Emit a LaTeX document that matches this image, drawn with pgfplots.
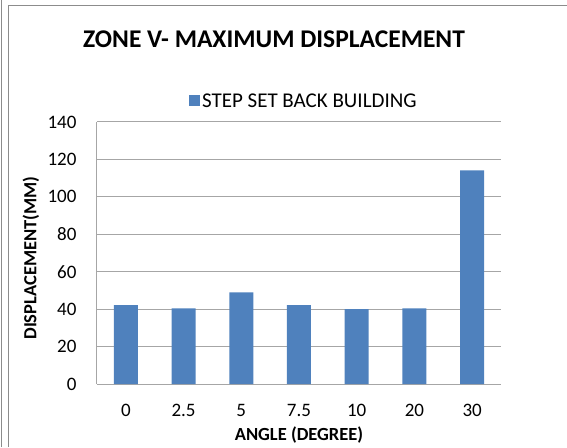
\documentclass[border=0pt]{standalone}
\usepackage{pgfplots}
\pgfplotsset{compat=1.18}
\usepackage{fontspec}
\setmainfont{Carlito}
\definecolor{barblue}{HTML}{4F81BD}
\definecolor{gridgray}{HTML}{A6A6A6}
\definecolor{framegray}{HTML}{8C8C8C}
\begin{document}
\begin{tikzpicture}
\useasboundingbox (0pt,0pt) rectangle (567pt,447pt);
% frame
\draw[framegray,line width=1pt] (1.5pt,447pt) -- (1.5pt,0pt);
\draw[framegray,line width=1pt] (8pt,0pt) -- (8pt,441.5pt) -- (567pt,441.5pt);
% title
\node[font=\fontsize{25.5}{30}\selectfont\bfseries] at (274pt,408pt) {ZONE V- MAXIMUM DISPLACEMENT};
\begin{axis}[
  at={(97pt,63pt)}, anchor=south west,
  scale only axis, width=404pt, height=262pt,
  ymin=0, ymax=140, ytick={0,20,...,140},
  xmin=-0.5, xmax=6.5,
  xtick={0,...,6},
  xticklabels={0,2.5,5,7.5,10,20,30},
  ybar, bar width=24pt,
  axis x line*=bottom, axis y line*=left,
  axis line style={gridgray, line width=1pt},
  ymajorgrids, grid style={gridgray, line width=1pt},
  major tick length=0pt,
  tick label style={font=\fontsize{19}{22}\selectfont},
  /pgf/number format/assume math mode=true,
  yticklabel style={anchor=east, xshift=-17pt},
  xticklabel style={anchor=center, yshift=-26pt},
  xlabel={\textbf{ANGLE (DEGREE)}},
  ylabel={\textbf{DISPLACEMENT(MM)}},
  label style={font=\fontsize{18.5}{22}\selectfont},
  xlabel style={at={(axis description cs:0.5,0)}, anchor=center, yshift=-51pt},
  ylabel style={at={(axis description cs:0,0.5)}, anchor=center, yshift=66pt, xshift=-5pt},
  legend style={at={(axis description cs:0.512,1)}, anchor=center, yshift=21pt, draw=none,
    font=\fontsize{21}{24}\selectfont},
  legend image code/.code={\fill[barblue] (0pt,-5.5pt) rectangle (11pt,5.5pt);},
  clip=false,
]
\addplot[fill=barblue, draw=none] coordinates {(0,42.1) (1,40.4) (2,48.9) (3,42.1) (4,40.0) (5,40.4) (6,114.1)};
\addlegendentry{STEP SET BACK BUILDING}
\end{axis}
\end{tikzpicture}
\end{document}
